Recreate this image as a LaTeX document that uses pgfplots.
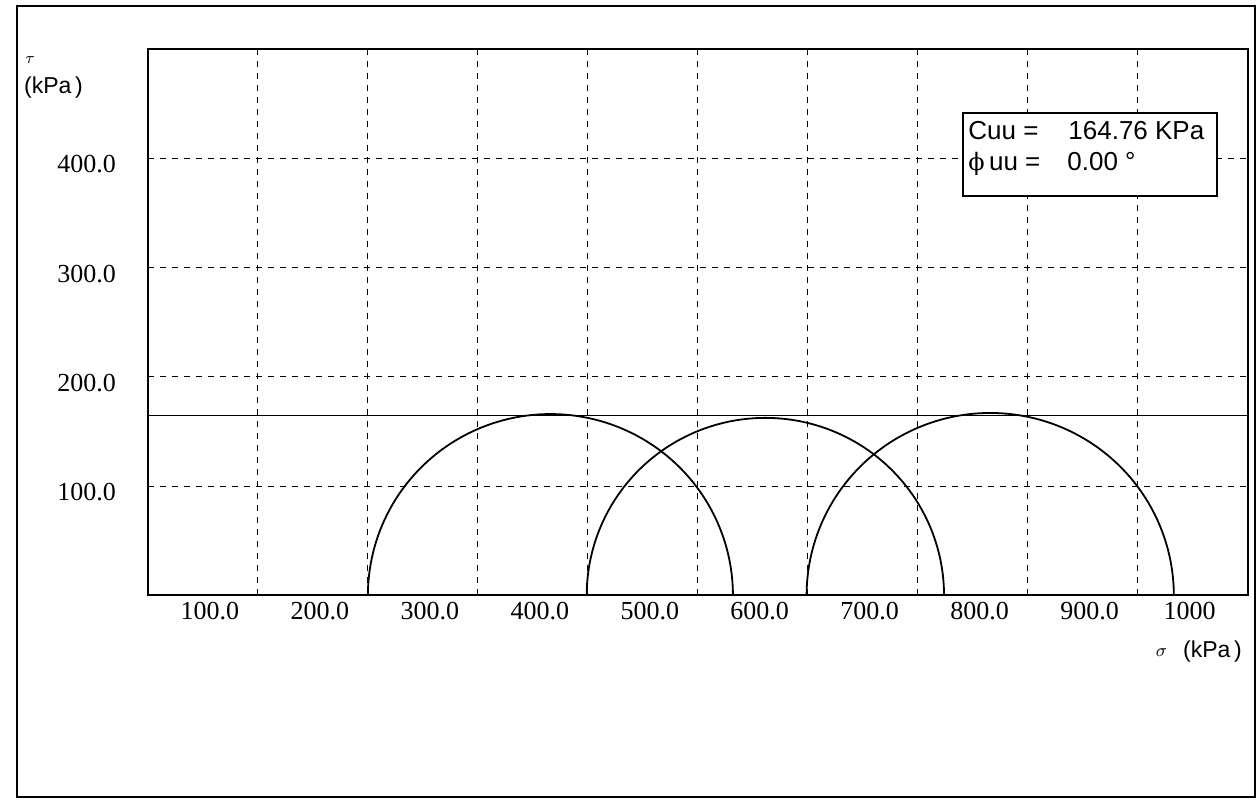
\documentclass[border=0pt]{standalone}
\usepackage{pgfplots}
\pgfplotsset{compat=1.18}
\usepackage{fontspec}
\setmainfont{Liberation Serif}
\newfontfamily\arial{Liberation Sans}
\newfontfamily\dvserif{DejaVu Serif}

% Mohr semicircle from sigma3 (#1) and sigma1 (#2), both in kPa
\newcommand\mohr[2]{\addplot[black, line width=0.9pt, domain=0:180, samples=121, smooth]
  ({(#1+#2)/2+(#2-#1)/2*cos(x)}, {(#2-#1)/2*sin(x)});}

\begin{document}
\begin{tikzpicture}
\path[use as bounding box] (-74pt,-103.25pt) rectangle (555pt,297.75pt);
\draw[line width=1pt] (-65.5pt,294.75pt) rectangle (553.5pt,-100.75pt);
\begin{axis}[
  at={(0pt,0pt)}, anchor=south west, scale only axis,
  width=549.75pt, height=273.25pt,
  xmin=0, xmax=1000, ymin=0, ymax=500,
  axis line style={line width=1pt},
  xtick={100,200,300,400,500,600,700,800,900,1000},
  xticklabels={100.0,200.0,300.0,400.0,500.0,600.0,700.0,800.0,900.0,\hspace*{-10pt}1000},
  ytick={100,200,300,400},
  yticklabels={100.0,200.0,300.0,400.0},
  major tick length=0pt,
  grid=major,
  major grid style={black, line width=0.5pt, dash pattern=on 3pt off 3pt},
  tick label style={font=\fontsize{13}{15}\selectfont},
  /pgf/number format/assume math mode=true,
  xticklabel style={xshift=-24pt},
  yticklabel style={xshift=-12.5pt, yshift=-3pt},
]
\addplot[black, line width=0.8pt] coordinates {(0,164.76) (1000,164.76)};
\mohr{200}{532}
\mohr{399}{724}
\mohr{599}{933}
\end{axis}
% result box
\draw[line width=0.9pt, fill=white] (407.5pt,241.25pt) rectangle (534.5pt,199.75pt);
\begin{scope}[every node/.style={anchor=base west, inner sep=0pt, font=\arial\fontsize{13}{15}\selectfont}]
\node at (410pt,228pt) {Cuu =};
\node at (460pt,228pt) {164.76 KPa};
\node at (410pt,212.5pt) {{\dvserif\fontsize{12}{14}\selectfont ϕ}\,uu =};
\node at (459.5pt,212.5pt) {0.00 °};
\end{scope}
% axis titles
\node[inner sep=0pt] at (-59pt,267.75pt) {\fontsize{8}{9}\selectfont$\tau$};
\node[inner sep=0pt, font=\arial\fontsize{11.5}{13}\selectfont] at (-47.25pt,253.75pt) {(kPa\,)};
\node[inner sep=0pt] at (506.75pt,-28.5pt) {\fontsize{9}{10}\selectfont$\sigma$};
\node[inner sep=0pt, font=\arial\fontsize{11.5}{13}\selectfont] at (532.25pt,-28pt) {(kPa\,)};
\end{tikzpicture}
\end{document}
